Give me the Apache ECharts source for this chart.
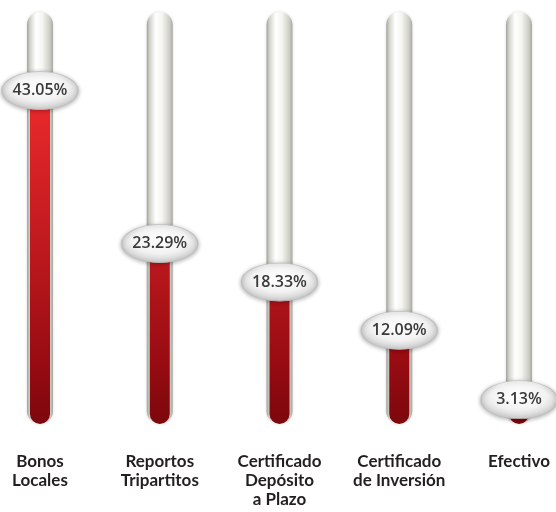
<!DOCTYPE html>
<html>
<head>
<meta charset="utf-8">
<script src="https://cdn.jsdelivr.net/npm/echarts@6/dist/echarts.min.js"></script>
<style>html,body{margin:0;padding:0;background:#fff}#c{width:556px;height:512px}</style>
</head>
<body>
<div id="c"></div>
<script>
const categories = ["Bonos\nLocales", "Reportos\nTripartitos", "Certificado\nDepósito\na Plazo", "Certificado\nde Inversión", "Efectivo"];
const values = [43.05, 23.29, 18.33, 12.09, 3.13];
const tubeMax = 53.2;
const tubeValues = categories.map(() => tubeMax);

const chart = echarts.init(document.getElementById('c'), null, {renderer: 'canvas'});

const tubeColor = new echarts.graphic.LinearGradient(0, 0, 1, 0, [
  {offset: 0, color: '#a2a39a'},
  {offset: 0.12, color: '#d4d4ce'},
  {offset: 0.35, color: '#ffffff'},
  {offset: 0.6, color: '#f4f4f0'},
  {offset: 0.88, color: '#cdcdc6'},
  {offset: 1, color: '#a7a8a0'}
]);
const redColor = new echarts.graphic.LinearGradient(0, 90, 0, 424, [
  {offset: 0, color: '#ec2a2c'},
  {offset: 0.45, color: '#c01a1f'},
  {offset: 0.8, color: '#990c12'},
  {offset: 1, color: '#7c080d'}
], true);
const ellipseColor = new echarts.graphic.RadialGradient(0.5, 0.4, 0.6, [
  {offset: 0, color: '#ffffff'},
  {offset: 0.6, color: '#f2f2f2'},
  {offset: 1, color: '#cbcbcb'}
]);

chart.setOption({
  animation: false,
  backgroundColor: '#ffffff',
  grid: {left: 40, right: 37, top: 12, bottom: 88},
  xAxis: [{
    type: 'category', data: categories, boundaryGap: false,
    axisLine: {show: false}, axisTick: {show: false}, splitLine: {show: false},
    axisLabel: {
      interval: 0, margin: 28, color: '#231f20',
      fontFamily: "Lato, sans-serif",
      fontWeight: 'bold', fontSize: 17, lineHeight: 19
    }
  }, {
    type: 'category', data: categories, boundaryGap: false, position: 'top', show: false
  }],
  yAxis: {type: 'value', min: 0, max: tubeMax, show: false, splitLine: {show: false}},
  series: [{
    type: 'bar', xAxisIndex: 1, data: tubeValues, barWidth: 26, clip: false, z: 1,
    itemStyle: {color: tubeColor, borderRadius: 13, shadowBlur: 3, shadowColor: 'rgba(0,0,0,0.15)'},
    silent: true
  }, {
    type: 'bar', xAxisIndex: 0, data: values, barWidth: 20, clip: false, z: 2,
    itemStyle: {color: redColor, borderRadius: 10}
  }, {
    type: 'scatter', xAxisIndex: 0, data: values, clip: false, z: 3,
    symbol: 'circle', symbolSize: [76, 38],
    itemStyle: {color: ellipseColor, borderColor: '#c0c0c0', borderWidth: 1,
      shadowBlur: 4, shadowColor: 'rgba(0,0,0,0.3)', shadowOffsetY: 1, opacity: 1},
    label: {show: true, position: 'inside', color: '#3a3a3a',
      fontFamily: "'Open Sans', sans-serif", fontWeight: 600, fontSize: 16,
      formatter: p => p.value.toFixed(2) + '%'}
  }]
});
</script>
</body>
</html>
